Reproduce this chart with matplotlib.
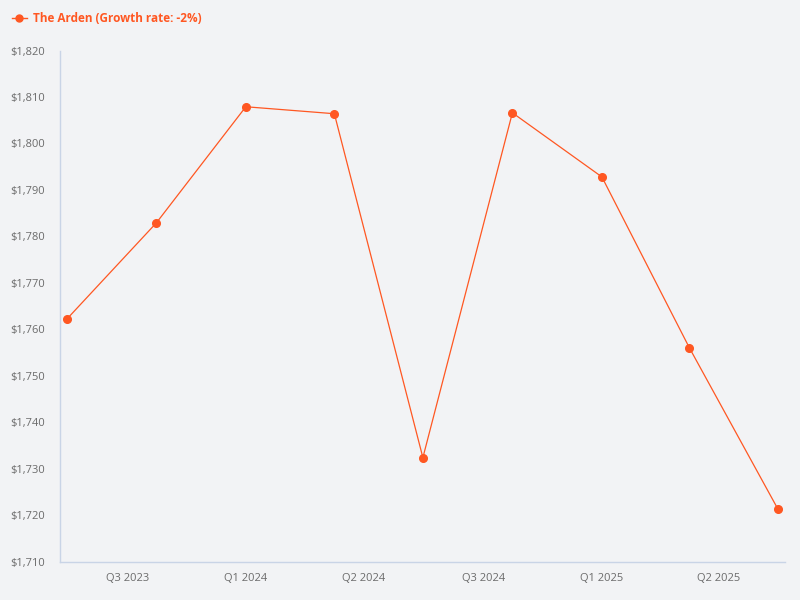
import datetime as dt
import matplotlib
matplotlib.use("Agg")
import matplotlib.pyplot as plt
import matplotlib.dates as mdates
from matplotlib.ticker import FuncFormatter
from matplotlib.lines import Line2D

# data
dates = [dt.date(2023, 7, 1), dt.date(2023, 10, 1), dt.date(2024, 1, 1),
         dt.date(2024, 4, 1), dt.date(2024, 7, 1), dt.date(2024, 10, 1),
         dt.date(2025, 1, 1), dt.date(2025, 4, 1), dt.date(2025, 7, 1)]
rent = [1762.2, 1782.9, 1807.9, 1806.4, 1732.4, 1806.6, 1792.8, 1756.0, 1721.3]
series_name = "The Arden (Growth rate: -2%)"

tick_dates = [dt.date(2023, 9, 1), dt.date(2024, 1, 1), dt.date(2024, 5, 1),
              dt.date(2024, 9, 1), dt.date(2025, 1, 1), dt.date(2025, 5, 1)]
y_ticks = list(range(1710, 1821, 10))

orange = "#ff5722"
bg = "#f2f3f5"
grey = "#6b6b6b"
spine_col = "#c9d4e6"

plt.rcParams["font.family"] = ["Open Sans", "DejaVu Sans"]

fig = plt.figure(figsize=(8, 6), dpi=100, facecolor=bg)
ax = fig.add_axes([0.075, 0.0638, 0.906, 0.852])
ax.set_facecolor(bg)

ax.plot(dates, rent, color=orange, lw=0.9, marker="o", ms=5.5, mec=orange, mfc=orange)

ax.set_ylim(1710, 1820)
ax.set_yticks(y_ticks)
ax.yaxis.set_major_formatter(FuncFormatter(lambda v, p: "${:,.0f}".format(v)))

pad = dt.timedelta(days=7.5)
ax.set_xlim(dates[0] - pad, dates[-1] + pad)
ax.set_xticks([mdates.date2num(d) for d in tick_dates])


def quarter_label(v, p):
    d = mdates.num2date(v)
    return "Q%d %d" % ((d.month - 1) // 3 + 1, d.year)


ax.xaxis.set_major_formatter(FuncFormatter(quarter_label))

for s in ["top", "right"]:
    ax.spines[s].set_visible(False)
for s in ["left", "bottom"]:
    ax.spines[s].set_color(spine_col)
    ax.spines[s].set_linewidth(1)

ax.tick_params(axis="y", length=0, pad=11, labelsize=8, labelcolor=grey)
ax.tick_params(axis="x", length=0, pad=8, labelsize=8, labelcolor=grey)

handle = Line2D([], [], color=orange, lw=1, marker="o", ms=5, mfc=orange, mec=orange)
leg = fig.legend([handle], [series_name], loc="upper left", bbox_to_anchor=(0.0, 1.0),
                 frameon=False, handlelength=1.3, handletextpad=0.5,
                 borderaxespad=0.6, prop={"weight": "bold", "size": 8.5})
for t in leg.get_texts():
    t.set_color(orange)

fig.savefig("out.png", dpi=100, facecolor=bg)
